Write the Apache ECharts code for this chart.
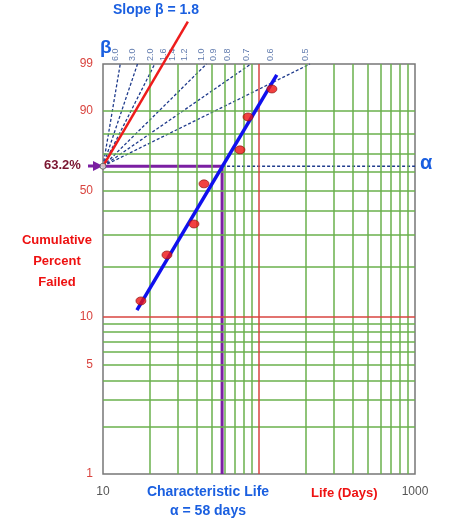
<!DOCTYPE html>
<html><head><meta charset="utf-8">
<script src="https://cdn.jsdelivr.net/npm/echarts@6/dist/echarts.min.js"></script>
<style>html,body{margin:0;padding:0;background:#fff}#c{width:450px;height:526px}</style>
</head><body><div id="c"></div>
<script>
// ---- data ----
const failLife = [17.5, 25.7, 38.3, 44.4, 75.5, 85, 121];        // days
const failPct  = [12.5, 23.3, 34.4, 53.6, 72.1, 87.6, 95.8];     // cumulative % failed
const fitLine  = [[16.5, 11], [130, 98]];                        // [days, %]
const gridPct  = [2,3,4,5,6,7,8,9,20,30,40,50,60,70,80,90];
const redPct   = [10];
const gridDays = [20,30,40,50,60,70,80,90,200,300,400,500,600,700,800,900];
const redDays  = [100];
const yTickPct = [1,5,10,50,90,99];
const xTickDays = [10,1000];
const betaLabels = [6.0,3.0,2.0,1.6,1.4,1.2,1.0,0.9,0.8,0.7,0.6,0.5];
const betaDashed = [6.0,3.0,2.0,1.0,0.7,0.5];
const slopeBeta = 1.8, charLife = 58, pivotPct = 63.2;
const slopeArrowEndDays = 35, slopeArrowEndW = 2.16; // beyond top edge
// ---- helpers ----
const W = p => Math.log(-Math.log(1 - p/100));
const yMin = W(1), yMax = W(99);
const FONT = 'Liberation Sans';
const green = '#6ab04c', red = '#d9443f', purple = '#7b1fa2', navy = '#1f3b8c', blue = '#1a5fe0';
const hl = (p, c, w) => ({yAxis: W(p), lineStyle:{color:c, width:w, type:'solid'}});
const vl = (d, c, w) => ({xAxis: d, lineStyle:{color:c, width:w, type:'solid'}});
const pivot = [10, W(pivotPct)];
const topX = b => 10*Math.exp((yMax - pivot[1])/b);

const chart = echarts.init(document.getElementById('c'));
chart.setOption({
  animation:false,
  grid:{left:103, right:35, top:64, bottom:52, show:true, borderColor:'#777', borderWidth:1.5},
  xAxis:{type:'log', min:10, max:1000, logBase:10,
    axisLine:{show:false}, axisTick:{show:false}, splitLine:{show:false},
    axisLabel:{customValues:xTickDays, color:'#555', fontFamily:FONT, fontSize:12, margin:12, formatter:v=>String(v)}},
  yAxis:{type:'value', min:yMin, max:yMax,
    axisLine:{show:false}, axisTick:{show:false}, splitLine:{show:false},
    axisLabel:{customValues:yTickPct.map(W), color:red, fontFamily:FONT, fontSize:12, margin:10,
      formatter:v => String(Math.round(100*(1-Math.exp(-Math.exp(v)))))}},
  series:[
    {type:'scatter', symbolSize:0, data:[[10,yMin]], silent:true, z:1,
     markLine:{silent:true, symbol:'none', label:{show:false}, animation:false,
       data:[...gridPct.map(p=>hl(p,green,1.5)), ...gridDays.map(d=>vl(d,green,1.5)),
             ...redPct.map(p=>hl(p,red,1.5)), ...redDays.map(d=>vl(d,red,1.5))]}},
    ...betaDashed.map(b=>({type:'line', data:[pivot,[topX(b),yMax]], symbol:'none', silent:true, z:3,
      lineStyle:{color:navy, width:1.3, type:[3,2]}})),
    {type:'line', data:[[charLife,pivot[1]],[1000,pivot[1]]], symbol:'none', z:3, lineStyle:{color:navy,width:1.5,type:[3,2]}},
    {type:'line', data:[pivot,[charLife,pivot[1]],[charLife,yMin]], symbol:'none', z:4, lineStyle:{color:purple,width:3}},
    {type:'scatter', symbolSize:0, clip:false, z:5, silent:true,
     data:betaLabels.map(b=>({value:[topX(b),yMax], name:b.toFixed(1)})),
     label:{show:true, formatter:'{b}', rotate:90, position:'top', align:'left', distance:3,
       color:'#3a5a9a', fontFamily:FONT, fontSize:9}},
    // slope arrow (line + arrow end symbol)
    {type:'line', clip:false, z:6, silent:true, data:[pivot,[slopeArrowEndDays,slopeArrowEndW]],
     symbol:'none', lineStyle:{color:'#ee1c1c', width:2.5},
     markPoint:{silent:true, symbol:'triangle', symbolSize:[9,12], symbolRotate:-33,
       itemStyle:{color:'#ee1c1c'}, label:{show:false},
       data:[{coord:[slopeArrowEndDays,slopeArrowEndW]}]}},
    {type:'line', data:fitLine.map(d=>[d[0],W(d[1])]), symbol:'none', z:7, lineStyle:{color:'#1010ee',width:3.5}},
    {type:'scatter', data:[pivot], symbolSize:6, z:8, itemStyle:{color:'#ddd',borderColor:'#555',borderWidth:1}},
    {type:'scatter', data:failLife.map((d,i)=>[d,W(failPct[i])]), symbolSize:[10,8], z:9,
     itemStyle:{color:'#ee1111', borderColor:'#881111', borderWidth:0.8}}
  ],
  graphic:[
    {type:'line', shape:{x1:88,y1:166,x2:96,y2:166}, style:{stroke:purple,lineWidth:3}},
    {type:'polygon', shape:{points:[[103,166],[93,161],[93,171]]}, style:{fill:purple}},
    {type:'text', x:44, y:159, style:{text:'63.2%', fill:'#7a1530', font:'bold 13px '+FONT}},
    {type:'text', x:420, y:153, style:{text:'α', fill:blue, font:'bold 20px '+FONT}},
    {type:'text', x:113, y:3, style:{text:'Slope β = 1.8', fill:blue, font:'bold 14px '+FONT}},
    {type:'text', x:100, y:38, style:{text:'β', fill:blue, font:'bold 19px '+FONT}},
    {type:'text', x:57, y:230, style:{text:'Cumulative\nPercent\nFailed', fill:'#ee1111', font:'bold 13px '+FONT, align:'center', lineHeight:21}},
    {type:'text', x:208, y:483, style:{text:'Characteristic Life\nα = 58 days', fill:blue, font:'bold 14px '+FONT, align:'center', lineHeight:19}},
    {type:'text', x:311, y:487, style:{text:'Life (Days)', fill:'#ee1111', font:'bold 13px '+FONT}}
  ]
});
</script></body></html>
